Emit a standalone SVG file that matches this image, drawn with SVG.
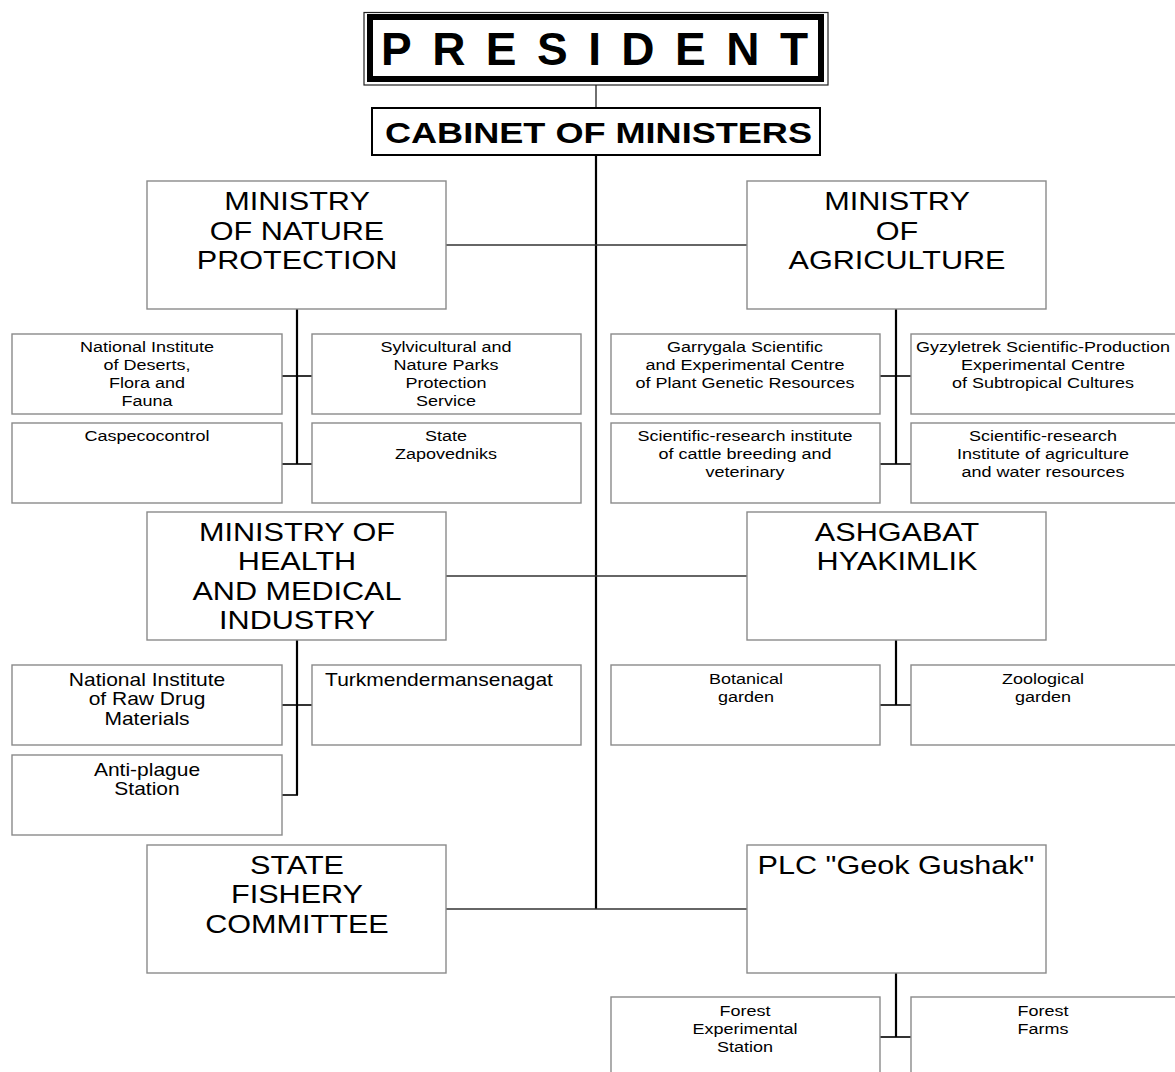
<svg xmlns="http://www.w3.org/2000/svg" width="1175" height="1072" viewBox="0 0 1175 1072">
<style>
text{font-family:"Liberation Sans",Arial,sans-serif;fill:#000;text-anchor:middle}
.box{fill:#fff;stroke:#8a8a8a;stroke-width:1.4}
.big{font-size:25.5px}
.sm{font-size:15px}
.md{font-size:17.5px}
.v{stroke:#000;stroke-width:2.2;fill:none}
.h{stroke:#000;stroke-width:1.6;fill:none}
.hm{stroke:#333;stroke-width:1.4;fill:none}
</style>
<rect width="1175" height="1072" fill="#fff"/>
<g id="connectors">
<line class="hm" x1="596" y1="85" x2="596" y2="108"/>
<line class="v" x1="596" y1="155" x2="596" y2="909"/>
<line class="hm" x1="446" y1="245" x2="747" y2="245"/>
<line class="hm" x1="446" y1="576" x2="747" y2="576"/>
<line class="hm" x1="446" y1="909" x2="747" y2="909"/>
<line class="v" x1="297" y1="309" x2="297" y2="464"/>
<line class="h" x1="282" y1="376" x2="312" y2="376"/>
<line class="h" x1="282" y1="464" x2="312" y2="464"/>
<line class="v" x1="896" y1="309" x2="896" y2="464"/>
<line class="h" x1="880" y1="376" x2="911" y2="376"/>
<line class="h" x1="880" y1="464" x2="911" y2="464"/>
<line class="v" x1="297" y1="640" x2="297" y2="795"/>
<line class="h" x1="282" y1="705" x2="312" y2="705"/>
<line class="h" x1="282" y1="795" x2="298" y2="795"/>
<line class="v" x1="896" y1="640" x2="896" y2="705"/>
<line class="h" x1="880" y1="705" x2="911" y2="705"/>
<line class="v" x1="896" y1="973" x2="896" y2="1037"/>
<line class="h" x1="880" y1="1037" x2="911" y2="1037"/>
</g>
<g id="president">
<rect x="364" y="12.5" width="464" height="72.5" fill="#fff" stroke="#222" stroke-width="1.2"/>
<rect x="370" y="17" width="451" height="62" fill="none" stroke="#000" stroke-width="6"/>
<text x="381" y="65" style="font-size:46px;font-weight:bold;text-anchor:start" textLength="427" lengthAdjust="spacing">PRESIDENT</text>
</g>
<g id="cabinet">
<rect x="372" y="108" width="448" height="47" fill="#fff" stroke="#000" stroke-width="2"/>
<text x="385" y="143" style="font-size:30px;font-weight:bold;text-anchor:start" textLength="427" lengthAdjust="spacingAndGlyphs">CABINET OF MINISTERS</text>
</g>
<g id="ministry-nature">
<rect class="box" x="147" y="181" width="299" height="128"/>
<g transform="translate(297,0) scale(1.2,1)" class="big"><text y="210">MINISTRY</text><text y="240">OF NATURE</text><text y="269.5">PROTECTION</text></g>
</g>
<g id="ministry-agriculture">
<rect class="box" x="747" y="181" width="299" height="128"/>
<g transform="translate(897,0) scale(1.2,1)" class="big"><text y="210">MINISTRY</text><text y="240">OF</text><text y="269.5">AGRICULTURE</text></g>
</g>
<g id="deserts-institute">
<rect class="box" x="12" y="334" width="270" height="80"/>
<g transform="translate(147,0) scale(1.2,1)" class="sm"><text y="352">National Institute</text><text y="370">of Deserts,</text><text y="388">Flora and</text><text y="406">Fauna</text></g>
</g>
<g id="sylvicultural">
<rect class="box" x="312" y="334" width="269" height="80"/>
<g transform="translate(446,0) scale(1.2,1)" class="sm"><text y="352">Sylvicultural and</text><text y="370">Nature Parks</text><text y="388">Protection</text><text y="406">Service</text></g>
</g>
<g id="caspecocontrol">
<rect class="box" x="12" y="423" width="270" height="80"/>
<g transform="translate(147,0) scale(1.2,1)" class="sm"><text y="441">Caspecocontrol</text></g>
</g>
<g id="zapovedniks">
<rect class="box" x="312" y="423" width="269" height="80"/>
<g transform="translate(446,0) scale(1.2,1)" class="sm"><text y="441">State</text><text y="459">Zapovedniks</text></g>
</g>
<g id="garrygala">
<rect class="box" x="611" y="334" width="269" height="80"/>
<g transform="translate(745,0) scale(1.2,1)" class="sm"><text y="352">Garrygala Scientific</text><text y="370">and Experimental Centre</text><text y="388">of Plant Genetic Resources</text></g>
</g>
<g id="gyzyletrek">
<rect class="box" x="911" y="334" width="270" height="80"/>
<g transform="translate(1043,0) scale(1.2,1)" class="sm"><text y="352">Gyzyletrek Scientific-Production</text><text y="370">Experimental Centre</text><text y="388">of Subtropical Cultures</text></g>
</g>
<g id="cattle-institute">
<rect class="box" x="611" y="423" width="269" height="80"/>
<g transform="translate(745,0) scale(1.2,1)" class="sm"><text y="441">Scientific-research institute</text><text y="459">of cattle breeding and</text><text y="477">veterinary</text></g>
</g>
<g id="agriculture-institute">
<rect class="box" x="911" y="423" width="270" height="80"/>
<g transform="translate(1043,0) scale(1.2,1)" class="sm"><text y="441">Scientific-research</text><text y="459">Institute of agriculture</text><text y="477">and water resources</text></g>
</g>
<g id="ministry-health">
<rect class="box" x="147" y="512" width="299" height="128"/>
<g transform="translate(297,0) scale(1.2,1)" class="big"><text y="541">MINISTRY OF</text><text y="570.5">HEALTH</text><text y="600">AND MEDICAL</text><text y="629.5">INDUSTRY</text></g>
</g>
<g id="ashgabat">
<rect class="box" x="747" y="512" width="299" height="128"/>
<g transform="translate(897,0) scale(1.2,1)" class="big"><text y="541">ASHGABAT</text><text y="570.5">HYAKIMLIK</text></g>
</g>
<g id="raw-drug">
<rect class="box" x="12" y="665" width="270" height="80"/>
<g transform="translate(147,0) scale(1.2,1)" class="md"><text y="686">National Institute</text><text y="705.5">of Raw Drug</text><text y="725">Materials</text></g>
</g>
<g id="turkmendermansenagat">
<rect class="box" x="312" y="665" width="269" height="80"/>
<g transform="translate(439,0) scale(1.2,1)" class="md"><text y="686">Turkmendermansenagat</text></g>
</g>
<g id="anti-plague">
<rect class="box" x="12" y="755" width="270" height="80"/>
<g transform="translate(147,0) scale(1.2,1)" class="md"><text y="776">Anti-plague</text><text y="795.5">Station</text></g>
</g>
<g id="botanical">
<rect class="box" x="611" y="665" width="269" height="80"/>
<g transform="translate(746,0) scale(1.2,1)" class="sm"><text y="684">Botanical</text><text y="702">garden</text></g>
</g>
<g id="zoological">
<rect class="box" x="911" y="665" width="270" height="80"/>
<g transform="translate(1043,0) scale(1.2,1)" class="sm"><text y="684">Zoological</text><text y="702">garden</text></g>
</g>
<g id="fishery">
<rect class="box" x="147" y="845" width="299" height="128"/>
<g transform="translate(297,0) scale(1.2,1)" class="big"><text y="874">STATE</text><text y="903.5">FISHERY</text><text y="933">COMMITTEE</text></g>
</g>
<g id="geok-gushak">
<rect class="box" x="747" y="845" width="299" height="128"/>
<g transform="translate(896,0) scale(1.2,1)" class="big"><text y="874">PLC "Geok Gushak"</text></g>
</g>
<g id="forest-station">
<rect class="box" x="611" y="997" width="269" height="90"/>
<g transform="translate(745,0) scale(1.2,1)" class="sm"><text y="1016">Forest</text><text y="1034">Experimental</text><text y="1052">Station</text></g>
</g>
<g id="forest-farms">
<rect class="box" x="911" y="997" width="270" height="90"/>
<g transform="translate(1043,0) scale(1.2,1)" class="sm"><text y="1016">Forest</text><text y="1034">Farms</text></g>
</g>
</svg>
